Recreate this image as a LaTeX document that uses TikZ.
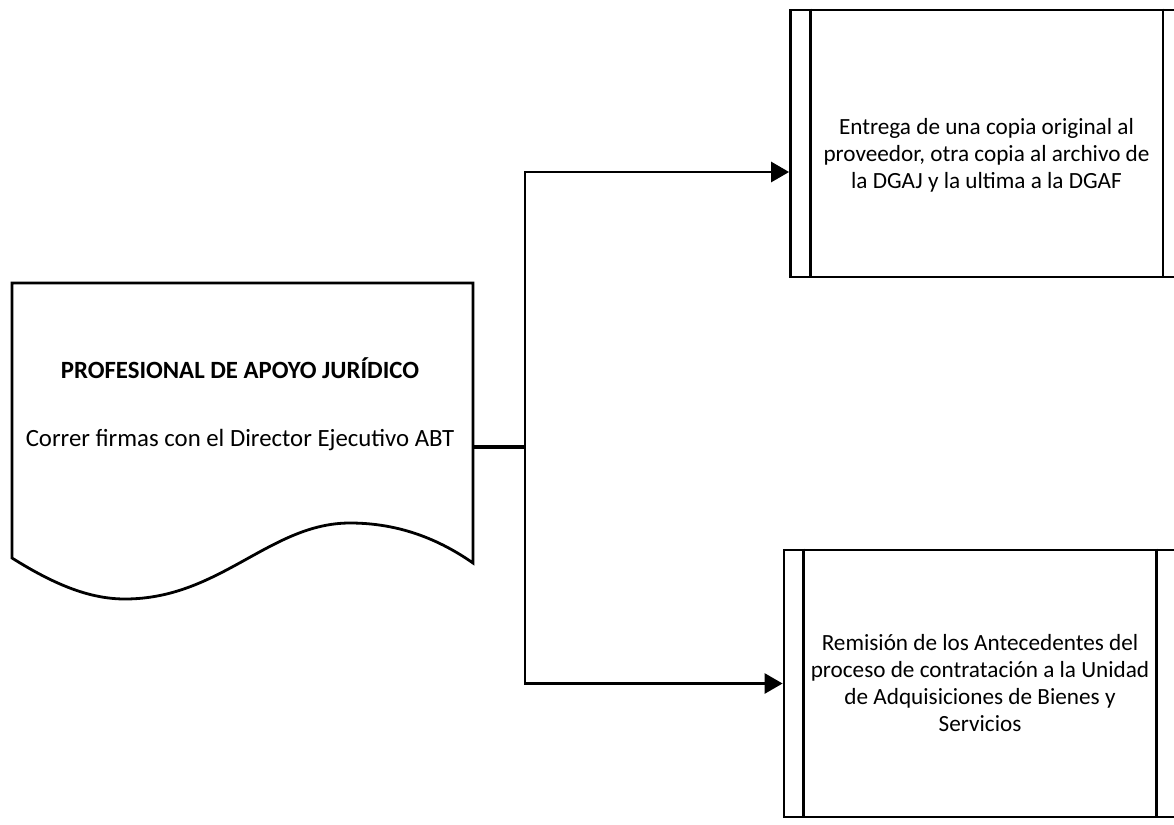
\documentclass[tikz,border=0pt]{standalone}
\usepackage{fontspec}
\setmainfont{Carlito}
\usetikzlibrary{arrows.meta}
\tikzset{x=0.5pt, y=-0.5pt,
linea/.style={ % Plain lines of the flow
draw,
line width=1.4pt},
flecha/.style={ % Connectors ending in a filled head
linea,
-{Triangle[length=9pt, width=10pt]}},
proceso/.style={ % Predefined process boxes
linea,
minimum width=196pt,
minimum height=133.5pt},
texto/.style={ % Text inside the boxes
align=center,
font=\fontsize{11.6}{13.5}\selectfont},
documento/.style={ % Text area of the document shape
align=center,
minimum width=230.5pt,
minimum height=121pt,
font=\fontsize{12.4}{14}\selectfont}}

\begin{document}
\begin{tikzpicture}
\useasboundingbox (0,0) rectangle (1174,825);
\node[documento] (prof) at (240,404) {\textbf{PROFESIONAL DE APOYO JURÍDICO}\\[20pt]Correr firmas con el Director Ejecutivo ABT};
\draw[linea] (12,283) -- (473,283) -- (473,563)
  .. controls (440,540) and (400,523) .. (350,523)
  .. controls (270,523) and (220,599) .. (125,599)
  .. controls (90,599) and (55,585) .. (12,558) -- cycle;
\node[proceso, label={[texto, yshift=-6pt]center:{Entrega de una copia original al\\proveedor, otra copia al archivo de\\la DGAJ y la ultima a la DGAF}}] (entrega) at (986.5,143.5) {};
\node[proceso, label={[texto]center:{Remisión de los Antecedentes del\\proceso de contratación a la Unidad\\de Adquisiciones de Bienes y\\Servicios}}] (remision) at (980,683.5) {};
\foreach \caja in {entrega, remision} {
  \draw[linea] ([xshift=10.5pt]\caja.north west) -- ([xshift=10.5pt]\caja.south west);
  \draw[linea] ([xshift=-10.5pt]\caja.north east) -- ([xshift=-10.5pt]\caja.south east);
}
\coordinate (junc) at (525,447);
\draw[linea, line width=2.2pt] (473,447) -- (junc);
\draw[flecha] (junc) |- ([yshift=-14.25pt]entrega.west);
\draw[flecha] (junc) |- (remision.west);
\end{tikzpicture}
\end{document}
